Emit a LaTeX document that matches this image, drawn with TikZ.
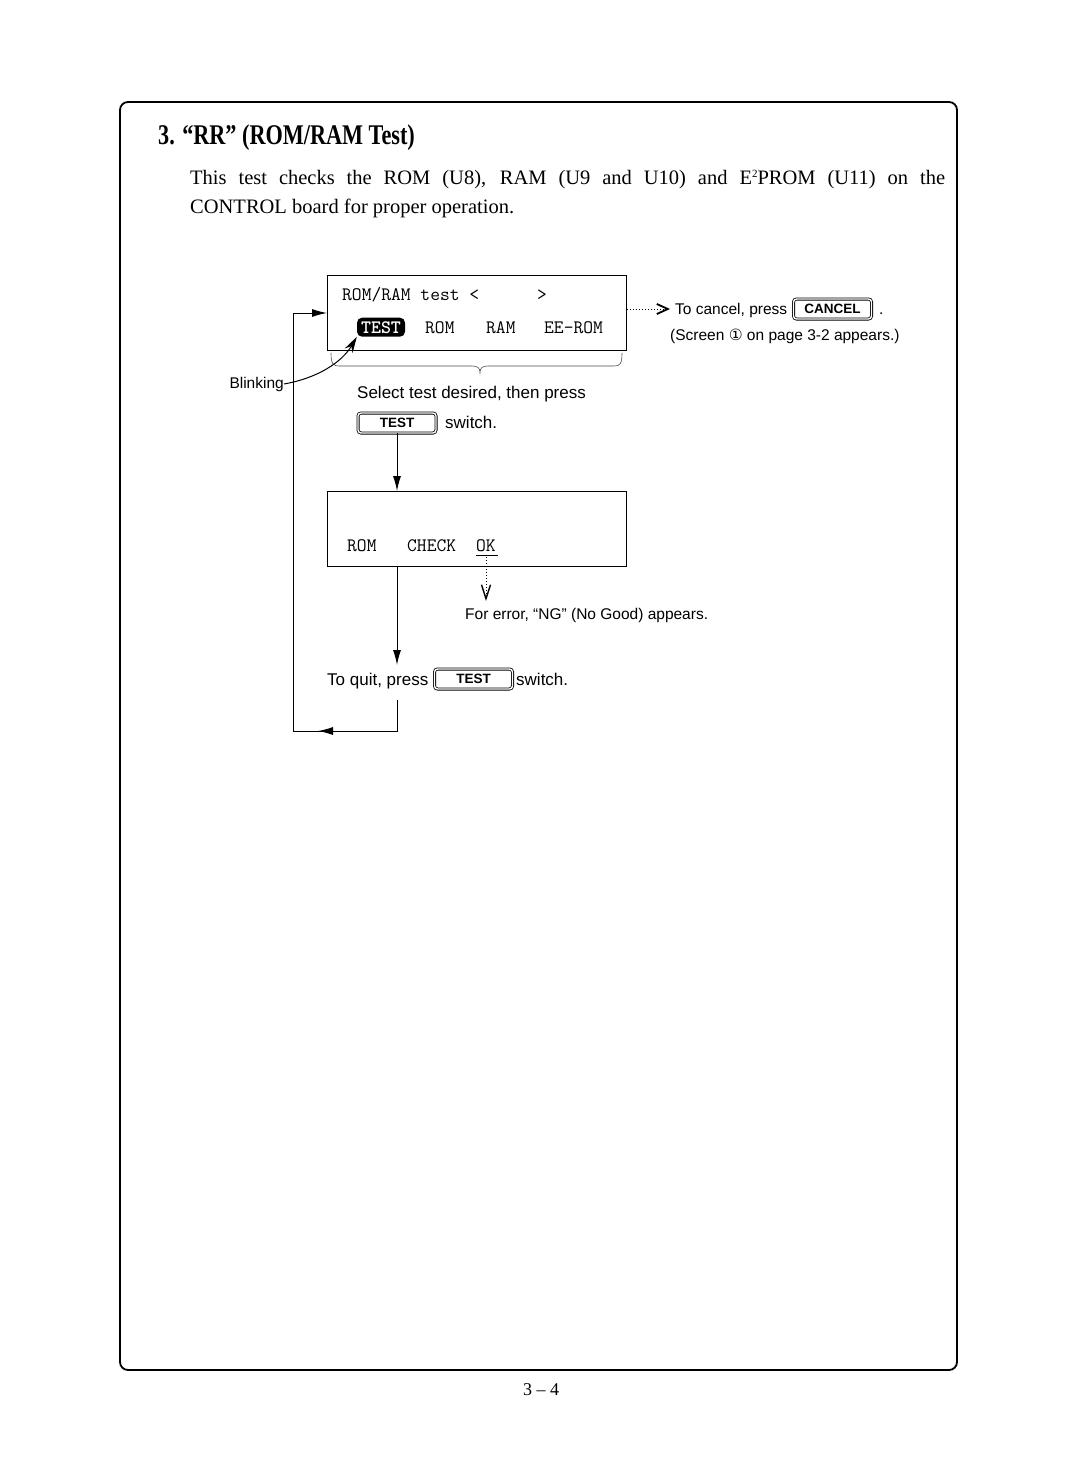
\documentclass[tikz,border=0pt]{standalone}
\usepackage{fontspec}
\setmainfont{Liberation Serif}
\setsansfont{Liberation Sans}
\newfontfamily\titlefont[FakeStretch=0.78]{Liberation Serif}
\newfontfamily\djv{DejaVu Sans}
\usetikzlibrary{arrows.meta}
\begin{document}
\begin{tikzpicture}[x=1pt,y=-1pt,
  txt/.style={inner sep=0pt, anchor=base west},
  body/.style={txt, font=\fontsize{20.5}{24}\selectfont},
  mono/.style={txt, font=\ttfamily\fontsize{19}{22}\selectfont},
  ann/.style={txt, font=\sffamily\fontsize{17}{20}\selectfont},
  small/.style={txt, font=\sffamily\fontsize{15.5}{18}\selectfont},
  screen/.style={draw, line width=1.2pt, anchor=north west, inner sep=0pt, minimum width=299pt, minimum height=75pt},
  keycap/.style={draw, double, double distance=1.4pt, line width=0.8pt, rounded corners=3pt, minimum width=78pt, minimum height=20pt, inner sep=0pt, font=\sffamily\bfseries\fontsize{13.5}{15}\selectfont},
  flow/.style={line width=1pt},
  tip/.style={-{Latex[length=15pt,width=8pt]}},
  opentip/.style={-{Straight Barb[length=11pt,width=10pt,line width=1.8pt]}},
]
\useasboundingbox (0,0) rectangle (1080,1461);
\fill[white] (0,0) rectangle (1080,1461);

% frame
\draw[line width=1.8pt, rounded corners=8pt] (120,102) rectangle (957,1370);

% title and intro
\node[txt, font=\titlefont\bfseries\fontsize{28.5}{30}\selectfont] (title) at (158,145) {3. “RR” (ROM/RAM Test)};
\node[body] (intro1) at (190,184) {\makebox[755pt][s]{This test checks the ROM (U8), RAM (U9 and U10) and E\raisebox{7pt}{\fontsize{11}{11}\selectfont 2}PROM (U11) on the}};
\node[body] (intro2) at (190,213) {CONTROL board for proper operation.};

% screen 1
\node[screen] (scr1) at (327,275) {};
\node[mono] (s1a) at (342,300) {ROM/RAM test <};
\node[mono] (s1b) at (537,300) {>};
\node[fill=black, rounded corners=5pt, inner sep=0pt, minimum width=48pt, minimum height=19pt, text=white, anchor=base,
      font=\ttfamily\bfseries\fontsize{19}{22}\selectfont] (hl) at (381,333) {TEST};
\node[mono] (s1rom) at (425,333) {ROM};
\node[mono] (s1ram) at (486,333) {RAM};
\node[mono] (s1ee) at (544,333) {EE-ROM};

% brace under screen 1
\draw[line width=0.6pt, black!70] (331,353) .. controls (331,364) and (333,366) .. (340,366) -- (472,366)
  .. controls (478,366) and (480,368) .. (480,373) .. controls (480,368) and (482,366) .. (488,366)
  -- (614,366) .. controls (620,366) and (622,364) .. (622,353);

% blinking
\node[small, anchor=base east] (blink) at (284,388) {Blinking};
\draw[flow, -{Stealth[length=16pt,width=9pt]}] (blink.east) .. controls (318,378) and (342,362) .. (hl.south west);

% cancel
\draw[flow, dotted, opentip] (scr1.east |- 0,309) -- (670,309);
\node[small] (cancel) at (675,314) {To cancel, press};
\node[keycap] (ckey) at (832.5,309) {CANCEL};
\node[small] (dot) at (879,314) {.};
\node[small] (screen1) at (670,340) {(Screen {\djv ①} on page 3-2 appears.)};

% select
\node[ann] (select) at (357,398) {Select test desired, then press};
\node[keycap] (key1) at (397,423) {TEST};
\node[ann] (sw1) at (445,428) {switch.};

% screen 2
\node[screen] (scr2) at (327,491) {};
\node[mono] (s2a) at (347,551) {ROM};
\node[mono] (s2b) at (407,551) {CHECK};
\node[mono] (s2ok) at (476,551) {OK};
\draw[line width=0.8pt] (476,555) -- (498,555);
\draw[flow, tip] (key1.south) -- (scr2.north -| key1.south);

% error
\coordinate (errtop) at (486,557);
\coordinate (errend) at (486,601);
\draw[flow, dotted, -{Straight Barb[length=14pt,width=9pt,line width=1.4pt]}] (errtop) -- (errend);
\node[small] (err) at (465,619) {For error, “NG” (No Good) appears.};

% quit
\coordinate (q1) at (397,665);
\draw[flow, tip] (scr2.south -| key1.south) -- (q1);
\node[ann] (quit) at (327,685) {To quit, press};
\node[keycap] (key2) at (473.5,679) {TEST};
\node[ann] (sw2) at (516,685) {switch.};

% loop back
\coordinate (l0) at (397,700);
\coordinate (l1) at (397,731);
\coordinate (l2) at (318,731);
\coordinate (l3) at (293,731);
\coordinate (l4) at (293,313);
\draw[flow] (l0) -- (l1) -- (l2);
\draw[flow, tip] (l1) -- (l2);
\draw[flow] (l2) -- (l3) -- (l4);
\draw[flow, tip] (l4) -- (scr1.west |- l4);

% page number
\node[txt, anchor=base, font=\fontsize{18}{20}\selectfont] (page) at (541,1395) {3 -- 4};
\end{tikzpicture}
\end{document}
